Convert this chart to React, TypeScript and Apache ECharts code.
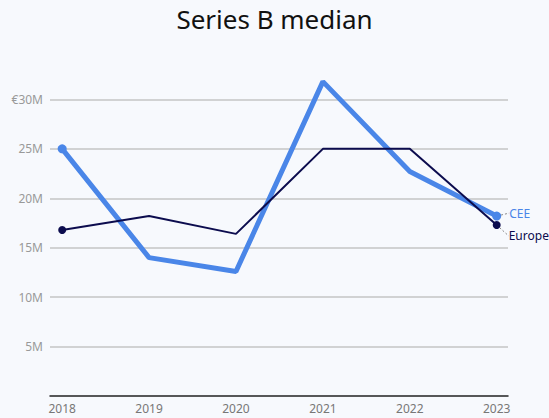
import React, { useEffect, useRef } from "react";
import * as echarts from "echarts";

const years = [2018, 2019, 2020, 2021, 2022, 2023];
const ceeValues = [25.0, 14.0, 12.6, 31.8, 22.7, 18.2];
const europeValues = [16.8, 18.2, 16.4, 25.0, 25.0, 17.3];
const yTicks = [0, 5, 10, 15, 20, 25, 30, 35];

const FONT = "'Noto Sans', sans-serif";

function buildData(vals: number[], name: string, color: string) {
  return vals.map((v, i) => {
    const last = i === vals.length - 1;
    return {
      value: [years[i], v],
      symbol: i === 0 || last ? "circle" : "none",
      label: last
        ? {
            show: true,
            position: "right",
            formatter: name,
            color,
            fontFamily: FONT,
            fontSize: 12,
            distance: 2,
          }
        : { show: false },
      labelLine: last
        ? { show: true, length2: 0, lineStyle: { color: "#888", width: 1, type: [2, 2] } }
        : { show: false },
    };
  });
}

export default function App() {
  const ref = useRef<HTMLDivElement>(null);
  useEffect(() => {
    if (!ref.current) return;
    const chart = echarts.init(ref.current, null, { renderer: "svg" });
    chart.setOption({
      animation: false,
      backgroundColor: "#f7f9fd",
      title: {
        text: "Series B median",
        left: "center",
        top: 1,
        textStyle: { fontFamily: FONT, fontSize: 26, fontWeight: "normal", color: "#111" },
      },
      grid: { left: 50, right: 41, top: 50, bottom: 22, containLabel: false },
      xAxis: {
        type: "value",
        min: 2017.86,
        max: 2023.13,
        axisLine: { show: true, onZero: false, lineStyle: { color: "#222", width: 1.5 } },
        axisTick: { show: false },
        splitLine: { show: false },
        axisLabel: {
          customValues: years,
          formatter: (v: number) => String(Math.round(v)),
          color: "#777",
          fontFamily: FONT,
          fontSize: 12,
          margin: 6,
        },
      },
      yAxis: {
        type: "value",
        min: yTicks[0],
        max: yTicks[yTicks.length - 1],
        interval: 5,
        axisLine: { show: false },
        axisTick: { show: false },
        splitLine: {
          show: true,
          showMinLine: false,
          showMaxLine: false,
          lineStyle: { color: "#c4c4c4", width: 1.5 },
        },
        axisLabel: {
          showMinLabel: false,
          showMaxLabel: false,
          formatter: (v: number) => (v === 30 ? "€30M" : v + "M"),
          color: "#999",
          fontFamily: FONT,
          fontSize: 12,
          margin: 7,
        },
      },
      series: [
        {
          name: "Europe",
          type: "line",
          data: buildData(europeValues, "Europe", "#0c0c4e"),
          symbolSize: 8,
          z: 3,
          lineStyle: { color: "#0c0c4e", width: 2 },
          itemStyle: { color: "#0c0c4e" },
          labelLayout: { dx: 6, dy: 11 },
        },
        {
          name: "CEE",
          type: "line",
          data: buildData(ceeValues, "CEE", "#4a86e8"),
          symbolSize: 9,
          z: 2,
          lineStyle: { color: "#4a86e8", width: 5 },
          itemStyle: { color: "#4a86e8" },
          labelLayout: { dx: 6, dy: -3 },
        },
      ],
    });
    return () => chart.dispose();
  }, []);
  return <div ref={ref} style={{ position: "fixed", left: 0, top: 0, width: 549, height: 418 }} />;
}
